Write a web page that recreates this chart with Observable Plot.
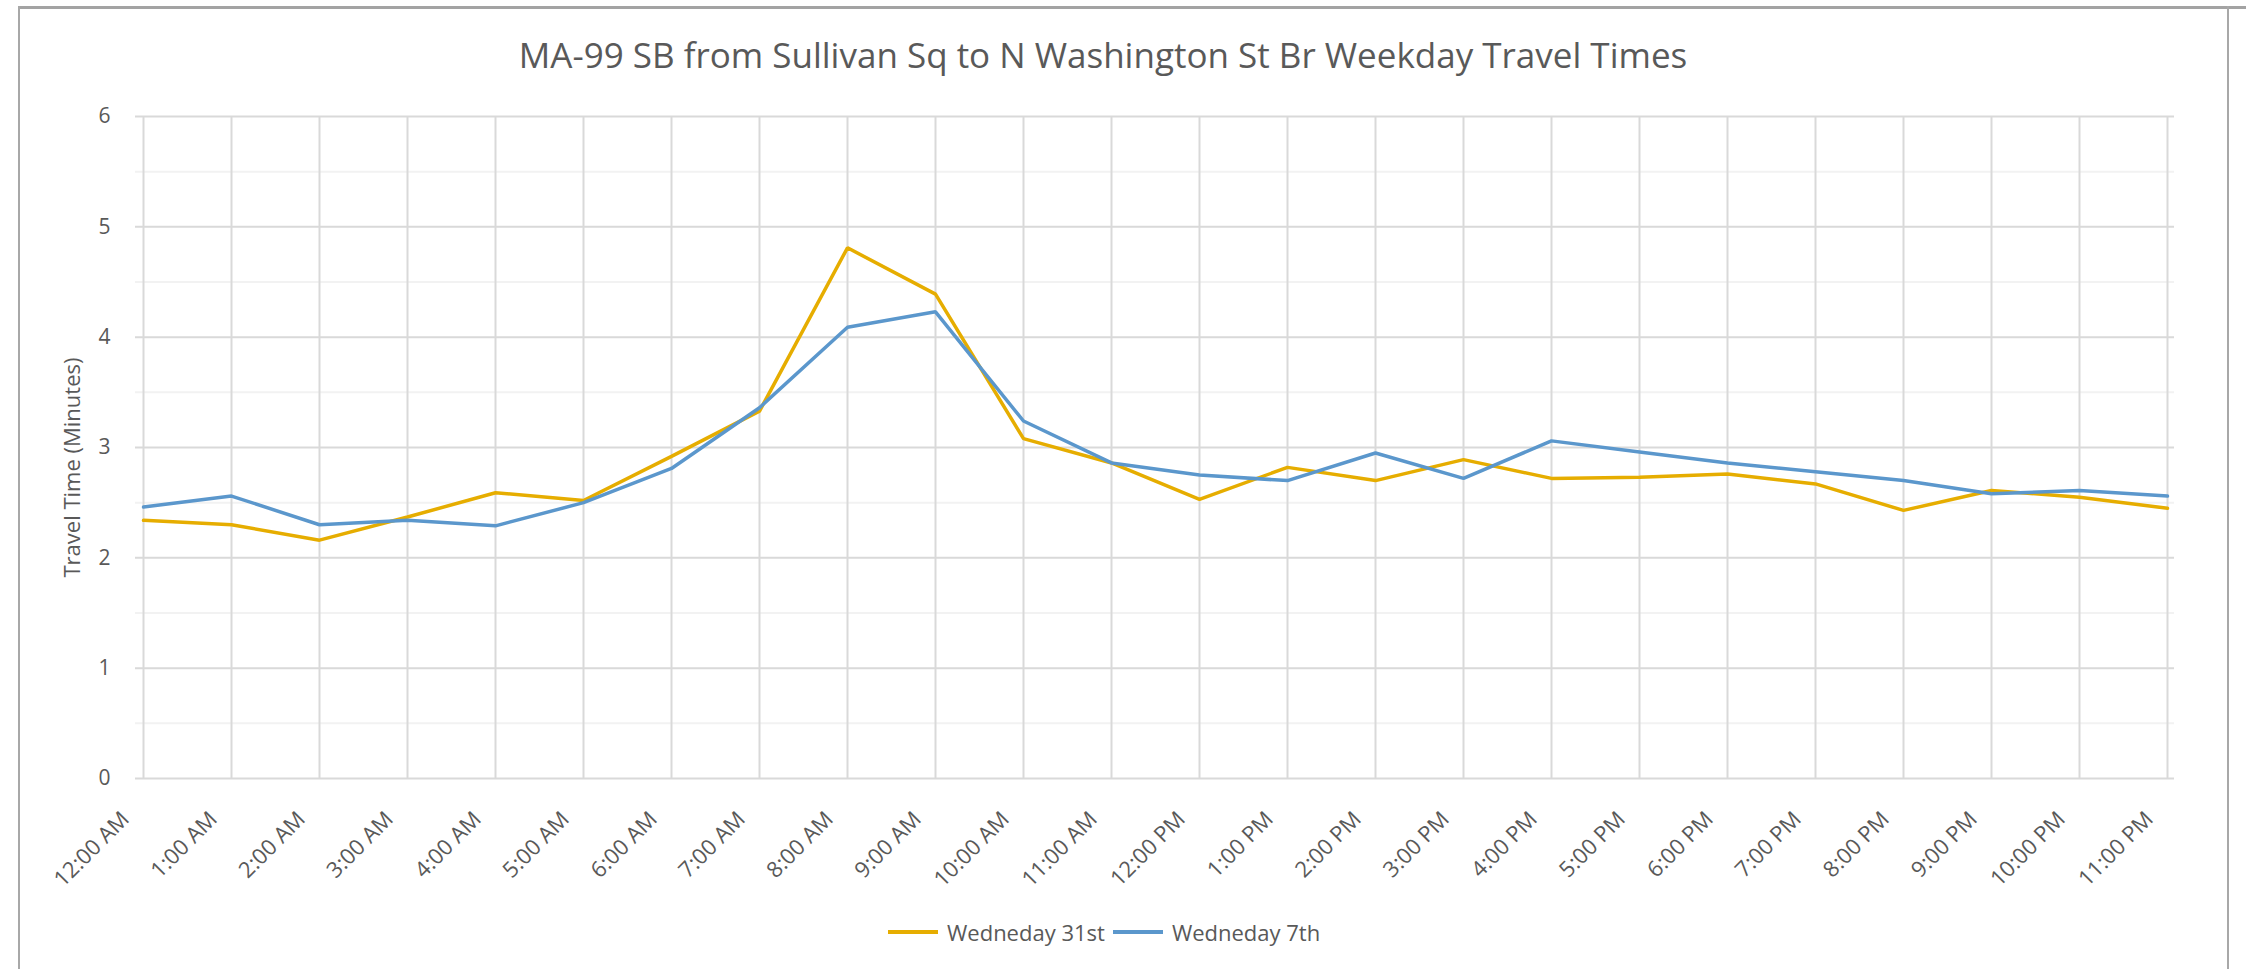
<!DOCTYPE html>
<html>
<head>
<meta charset="utf-8">
<script src="https://cdn.jsdelivr.net/npm/d3@7"></script>
<script src="https://cdn.jsdelivr.net/npm/@observablehq/plot@0.6"></script>
<style>
  html, body { margin: 0; padding: 0; background: #fff; }
  body { width: 2246px; height: 969px; position: relative; overflow: hidden; font-family: 'Open Sans', sans-serif; }
  .frame-top { position: absolute; z-index: 5; left: 18px; top: 6px; width: 2228px; height: 3px; background: #a3a3a3; }
  .frame-left { position: absolute; z-index: 5; left: 18px; top: 6px; width: 2px; height: 963px; background: #a8a8a8; }
  .frame-right { position: absolute; z-index: 5; left: 2227px; top: 6px; width: 2px; height: 963px; background: #a8a8a8; }
  #title { position: absolute; left: 0px; width: 2206px; top: 37px; text-align: center; font-size: 35px; line-height: 35px; color: #595959; white-space: nowrap; }
  #chart { position: absolute; left: 0; top: 100px; }
  #legend { position: absolute; left: 888px; top: 916px; display: flex; align-items: center; font-size: 22px; line-height: 32px; color: #595959; }
  .item { display: flex; align-items: center; margin-right: 8px; }
  .swatch { width: 50px; height: 4px; margin-right: 9px; }
</style>
</head>
<body>
<div class="frame-top"></div>
<div class="frame-left"></div>
<div class="frame-right"></div>
<div id="title"></div>
<div id="chart"></div>
<div id="legend"></div>
<script>
const titleText = "MA-99 SB from Sullivan Sq to N Washington St Br Weekday Travel Times";
const yLabel = "Travel Time (Minutes)";
const hours = ["12:00 AM","1:00 AM","2:00 AM","3:00 AM","4:00 AM","5:00 AM","6:00 AM","7:00 AM","8:00 AM","9:00 AM","10:00 AM","11:00 AM",
               "12:00 PM","1:00 PM","2:00 PM","3:00 PM","4:00 PM","5:00 PM","6:00 PM","7:00 PM","8:00 PM","9:00 PM","10:00 PM","11:00 PM"];
const wed31 = [2.34, 2.30, 2.16, 2.37, 2.59, 2.52, 2.92, 3.33, 4.81, 4.39, 3.08, 2.86,
               2.53, 2.82, 2.70, 2.89, 2.72, 2.73, 2.76, 2.67, 2.43, 2.61, 2.55, 2.45];
const wed7  = [2.46, 2.56, 2.30, 2.34, 2.29, 2.50, 2.81, 3.36, 4.09, 4.23, 3.24, 2.86,
               2.75, 2.70, 2.95, 2.72, 3.06, 2.96, 2.86, 2.78, 2.70, 2.58, 2.61, 2.56];
const seriesNames = ["Wedneday 31st", "Wedneday 7th"];
const seriesColors = ["#E6AD00", "#5B97CC"];
const yTicks = [0, 1, 2, 3, 4, 5, 6];
const yMinorTicks = [0.5, 1.5, 2.5, 3.5, 4.5, 5.5];

const seriesValues = [wed31, wed7];
const data = seriesNames.flatMap((name, s) => hours.map((h, i) => ({hour: h, value: seriesValues[s][i], series: name})));

document.getElementById("title").textContent = titleText;

const chart = Plot.plot({
  width: 2246,
  height: 800,
  marginLeft: 135,
  marginRight: 72,
  marginTop: 16,
  marginBottom: 122,
  x: {type: "point", domain: hours, padding: 0, label: null},
  y: {domain: [0, 6], label: null},
  color: {domain: seriesNames, range: seriesColors},
  style: {fontFamily: "'Open Sans', sans-serif", fontSize: "21px", color: "#595959", background: "transparent", overflow: "visible"},
  marks: [
    Plot.ruleY(yMinorTicks, {stroke: "#f2f2f2", strokeWidth: 2}),
    Plot.ruleY(yTicks, {stroke: "#d9d9d9", strokeWidth: 2}),
    Plot.ruleX(hours, {stroke: "#d9d9d9", strokeWidth: 2}),
    Plot.axisY({ticks: yTicks, tickFormat: d => String(d), tickSize: 0, tickPadding: 25, label: null, fontSize: 21}),
    Plot.axisX({tickSize: 0, tickRotate: -45, tickPadding: 0, dx: -18, dy: 37, label: null, fontSize: 22}),
    Plot.line(data, {x: "hour", y: "value", stroke: "series", strokeWidth: 3.5, strokeLinejoin: "miter"}),
    Plot.text([yLabel], {text: d => d, frameAnchor: "left", textAnchor: "middle", rotate: -90, dx: -63, dy: 20, fill: "#595959", fontSize: 22})
  ]
});
document.getElementById("chart").appendChild(chart);

const legend = document.getElementById("legend");
seriesNames.forEach((name, i) => {
  const item = document.createElement("div");
  item.className = "item";
  const sw = document.createElement("div");
  sw.className = "swatch";
  sw.style.background = seriesColors[i];
  const lab = document.createElement("span");
  lab.textContent = name;
  item.appendChild(sw);
  item.appendChild(lab);
  legend.appendChild(item);
});
</script>
</body>
</html>
